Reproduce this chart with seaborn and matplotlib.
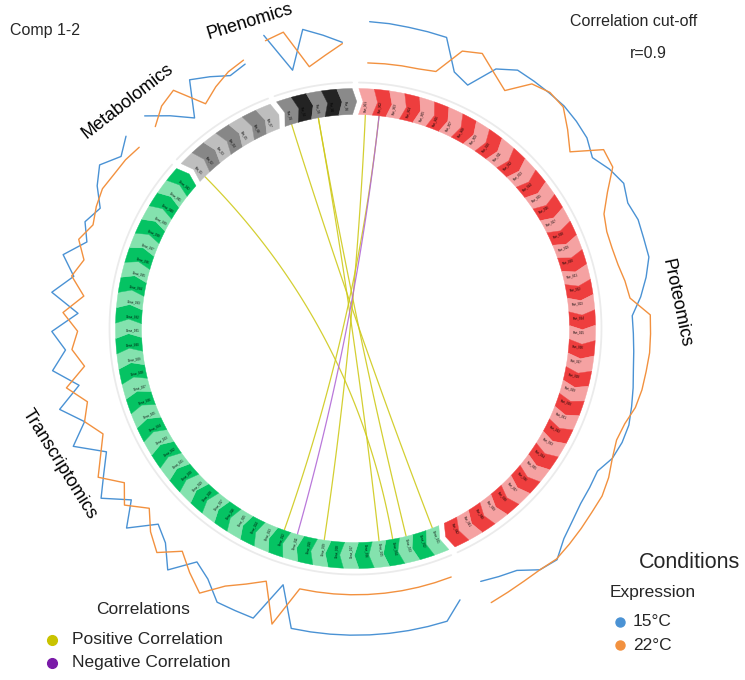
import numpy as np
import pandas as pd
import matplotlib
matplotlib.use("Agg")
import matplotlib.pyplot as plt
from matplotlib.patches import Polygon
import seaborn as sns

# ---------------------------------------------------------------- data
blocks = ["Proteomics", "Transcriptomics", "Metabolomics", "Phenomics"]
n_features = [42, 42, 7, 5]
conditions = ["15°C", "22°C"]

# scaled mean expression of every selected feature, per condition (0 = low, 1 = high)
prot_15 = [0.98, 0.97, 0.95, 0.94, 0.93, 0.23, 0.07, 0.70, 0.93, 0.93,
           0.93, 0.93, 0.88, 0.81, 0.63, 0.81, 0.93, 0.81, 0.88, 0.86,
           0.86, 0.70, 0.51, 0.28, 0.30, 0.33, 0.37, 0.44, 0.51, 0.58,
           0.58, 0.53, 0.37, 0.42, 0.47, 0.58, 0.72, 0.97, 0.90, 0.60,
           0.50, 0.40]
prot_22 = [0.02, 0.03, 0.04, 0.05, 0.10, 0.75, 0.88, 0.60, 0.37, 0.85,
           0.95, 0.90, 0.60, 0.30, 0.95, 0.90, 0.50, 0.20, 0.10, 0.09,
           0.12, 0.20, 0.26, 0.70, 0.70, 0.70, 0.67, 0.65, 0.60, 0.48,
           0.44, 0.53, 0.67, 0.77, 0.80, 0.85, 0.90, 0.95, 0.90, 0.90,
           0.92, 0.95]
trans_15 = [0.60, 0.97, 0.97, 0.97, 0.97, 0.97, 0.97, 0.97, 0.97, 0.97,
            0.03, 0.98, 0.97, 0.97, 0.60, 0.40, 0.95, 0.50, 0.30, 0.90,
            0.40, 0.95, 0.60, 0.30, 0.95, 0.50, 0.97, 0.40, 0.95, 0.60,
            0.90, 0.30, 0.95, 0.50, 0.85, 0.40, 0.60, 0.40, 0.70, 0.90,
            0.60, 0.80]
trans_22 = [0.03, 0.03, 0.03, 0.03, 0.03, 0.03, 0.03, 0.03, 0.03, 0.03,
            0.98, 0.07, 0.30, 0.55, 0.98, 0.70, 0.40, 0.80, 0.55, 0.20,
            0.60, 0.30, 0.75, 0.45, 0.20, 0.50, 0.30, 0.70, 0.20, 0.45,
            0.30, 0.65, 0.20, 0.55, 0.35, 0.60, 0.40, 0.50, 0.56, 0.50,
            0.47, 0.40]
metab_15 = [0.80, 0.40, 0.00, 0.79, 0.60, 0.40, 0.50]
metab_22 = [0.45, 0.70, 0.81, 0.12, 0.33, 0.50, 0.60]
pheno_15 = [0.98, 0.02, 0.90, 0.70, 0.50]
pheno_22 = [0.85, 0.93, 0.02, 0.23, 0.47]

# feature identifiers printed along the ring
prot_ids = [f"Prot_{k:03d}" for k in range(1, 43)]
trans_ids = [f"Gene_{k:03d}" for k in range(1, 43)]
metab_ids = [f"Met_{k:02d}" for k in range(1, 8)]
pheno_ids = [f"Phe_{k:02d}" for k in range(1, 6)]

# correlations above the cut-off between selected features
link_block_a = ["Phenomics", "Phenomics", "Metabolomics", "Phenomics",
                "Proteomics", "Proteomics", "Proteomics"]
link_feat_a = [0, 2, 0, 2, 0, 1, 1]
link_block_b = ["Transcriptomics"] * 7
link_feat_b = [0, 2, 3, 4, 8, 11, 10]
link_r = [0.93, 0.92, 0.91, 0.92, 0.94, 0.91, -0.91]
cutoff = 0.9
component_label = "Comp 1-2"

# ---------------------------------------------------------------- styling
expr = {"Proteomics": (prot_15, prot_22), "Transcriptomics": (trans_15, trans_22),
        "Metabolomics": (metab_15, metab_22), "Phenomics": (pheno_15, pheno_22)}
ids = {"Proteomics": prot_ids, "Transcriptomics": trans_ids,
       "Metabolomics": metab_ids, "Phenomics": pheno_ids}
dark = {"Proteomics": "#EE3E3E", "Transcriptomics": "#05C363",
        "Metabolomics": "#878787", "Phenomics": "#232323"}
light = {"Proteomics": "#F5A2A2", "Transcriptomics": "#84E2AE",
         "Metabolomics": "#BEBEBE", "Phenomics": "#8A8A8A"}
cond_pal = {"15°C": "#4A92D4", "22°C": "#F2913F"}
corr_pal = {"Positive Correlation": "#CFCA1C", "Negative Correlation": "#B26AD6"}
corr_dot = {"Positive Correlation": "#C9C300", "Negative Correlation": "#7A1AA8"}

sns.set_style("white")
plt.rcParams["font.family"] = ["Liberation Sans", "DejaVu Sans"]

W, H = 745, 680
CX, CY = 355.5, 328.5
fig = plt.figure(figsize=(W / 100, H / 100), dpi=100)
ax = fig.add_axes([0, 0, 1, 1])
ax.set_xlim(-CX, W - CX)
ax.set_ylim(-(H - CY), CY)
ax.axis("off")

R_IN, R_OUT, R_GUIDE = 214, 240, 246
R_MID = (R_IN + R_OUT) / 2
R_LINE0, R_LINE_SPAN = 265, 43
GAP = 1.6
CHEV = 1.1
step = (360 - GAP * len(blocks)) / sum(n_features)

block_start = {}
a = 90 - GAP / 2
for b, n in zip(blocks, n_features):
    block_start[b] = a
    a -= n * step + GAP


def feat_angle(b, i):
    return block_start[b] - (i + 0.5) * step


def xy(theta, r):
    t = np.deg2rad(theta)
    return r * np.cos(t), r * np.sin(t)


# ring of feature segments with arrow-shaped borders
for b, n in zip(blocks, n_features):
    for i in range(n):
        a0 = block_start[b] - i * step
        a1 = a0 - step
        pts = [xy(t, R_OUT) for t in np.linspace(a0, a1, 10)]
        pts.append(xy(a1 - CHEV, R_MID))
        pts += [xy(t, R_IN) for t in np.linspace(a1, a0, 10)]
        pts.append(xy(a0 - CHEV, R_MID))
        col = light[b] if i % 2 == 0 else dark[b]
        ax.add_patch(Polygon(pts, closed=True, fc=col, ec=col, lw=0.3, zorder=2))
        ang = feat_angle(b, i)
        rot = ((ang + 180) % 360) - 180
        if rot > 90 or rot < -90:
            rot += 180
        tx, ty = xy(ang, R_IN + 9)
        ax.text(tx, ty, ids[b][i], fontsize=2.1, rotation=rot, rotation_mode="anchor",
                ha="center", va="center", color="black", zorder=3)
    # thin guide arc outside each block
    th = np.linspace(block_start[b], block_start[b] - n * step, 100)
    gx, gy = xy(th, R_GUIDE)
    ax.plot(gx, gy, color="#EBEBEB", lw=1.3, zorder=1)

# expression track
rows = []
for b, n in zip(blocks, n_features):
    for cond, vals in zip(conditions, expr[b]):
        for i, v in enumerate(vals):
            x, y = xy(feat_angle(b, i), R_LINE0 + R_LINE_SPAN * v)
            rows.append({"block": b, "condition": cond, "order": i, "x": x, "y": y})
expr_df = pd.DataFrame(rows)
sns.lineplot(data=expr_df, x="x", y="y", hue="condition", units="block", estimator=None,
             sort=False, palette=cond_pal, lw=1.0, legend=False, ax=ax, zorder=2)

# correlation links, quadratic curves bent through the centre
t = np.linspace(0, 1, 120)
rows = []
for k, (ba, fa, bb, fb, r) in enumerate(zip(link_block_a, link_feat_a, link_block_b,
                                            link_feat_b, link_r)):
    x0, y0 = xy(feat_angle(ba, fa), R_IN)
    x2, y2 = xy(feat_angle(bb, fb), R_IN)
    xs = (1 - t) ** 2 * x0 + t ** 2 * x2
    ys = (1 - t) ** 2 * y0 + t ** 2 * y2
    sign = "Positive Correlation" if r > 0 else "Negative Correlation"
    for x, y in zip(xs, ys):
        rows.append({"link": k, "sign": sign, "x": x, "y": y})
link_df = pd.DataFrame(rows)
sns.lineplot(data=link_df, x="x", y="y", hue="sign", units="link", estimator=None,
             sort=False, palette=corr_pal, lw=0.9, alpha=0.9, legend=False, ax=ax, zorder=1)

# block names around the circle
label_pos = {"Proteomics": (4.5, 322, -78), "Transcriptomics": (204.5, 326, -58),
             "Metabolomics": (135.0, 322, 38), "Phenomics": (109.0, 324, 17)}
for b in blocks:
    ang, rr, rot = label_pos[b]
    x, y = xy(ang, rr)
    ax.text(x, y, b, fontsize=13, rotation=rot, ha="center", va="center", color="black")


# titles and legends
def fx(px):
    return px / W


def fy(py):
    return 1 - py / H


fig.text(fx(10), fy(31), component_label, fontsize=11.5, ha="left", va="center")
fig.text(fx(634), fy(22), "Correlation cut-off", fontsize=11.5, ha="center", va="center")
fig.text(fx(648), fy(53), f"r={cutoff}", fontsize=11.5, ha="center", va="center")

fig.text(fx(143), fy(610), "Correlations", fontsize=12.5, ha="center", va="center")
for k, lab in enumerate(["Positive Correlation", "Negative Correlation"]):
    yy = 640 + 23 * k
    fig.lines.append(plt.Line2D([fx(52)], [fy(yy)], marker="o", ms=7, ls="none",
                                color=corr_dot[lab], transform=fig.transFigure))
    fig.text(fx(72), fy(yy), lab, fontsize=12.5, ha="left", va="center")

fig.text(fx(690), fy(563), "Conditions", fontsize=15.5, ha="center", va="center")
fig.text(fx(653), fy(592), "Expression", fontsize=12.5, ha="center", va="center")
for k, cond in enumerate(conditions):
    yy = 622 + 23 * k
    fig.lines.append(plt.Line2D([fx(620)], [fy(yy)], marker="o", ms=6.5, ls="none",
                                color=cond_pal[cond], transform=fig.transFigure))
    fig.text(fx(633), fy(yy), cond, fontsize=12.5, ha="left", va="center")

fig.savefig("out.png", dpi=100)
